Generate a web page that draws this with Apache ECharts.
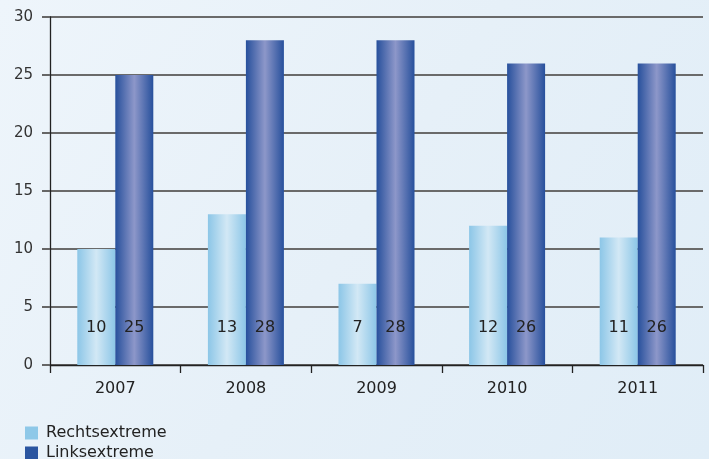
<!DOCTYPE html>
<html><head><meta charset="utf-8">
<script src="https://cdn.jsdelivr.net/npm/echarts@6/dist/echarts.min.js"></script>
<style>html,body{margin:0;padding:0;background:#e7f1f9;}#c{width:709px;height:459px;}</style>
</head><body><div id="c"></div>
<script>
var categories = ['2007','2008','2009','2010','2011'];
var rechts = [10, 13, 7, 12, 11];
var links = [25, 28, 28, 26, 26];
var seriesNames = ['Rechtsextreme','Linksextreme'];

var font = '"DejaVu Sans", "Liberation Sans", Arial, sans-serif';
function grad(edge, mid){
  return new echarts.graphic.LinearGradient(0,0,1,0,[
    {offset:0,color:edge},{offset:0.5,color:mid},{offset:1,color:edge}]);
}
function legendFor(name, color, top){
  return {
    left:25, top:top, padding:0, itemWidth:13, itemHeight:13, icon:'rect',
    textStyle:{fontSize:16,color:'#222',fontFamily:font,padding:[0,0,0,3]},
    data:[{name:name,itemStyle:{color:color}}]
  };
}
var chart = echarts.init(document.getElementById('c'));
chart.setOption({
  backgroundColor: new echarts.graphic.LinearGradient(0,0,1,1,[
    {offset:0,color:'#eef5fb'},{offset:0.5,color:'#e6f0f8'},{offset:1,color:'#e0edf7'}]),
  animation:false,
  textStyle:{fontFamily:font},
  grid:{left:50,right:6,top:17,bottom:94,containLabel:false},
  legend:[legendFor(seriesNames[0],'#8ec8e8',425), legendFor(seriesNames[1],'#2a55a0',445)],
  xAxis:{
    type:'category', data:categories,
    axisLine:{lineStyle:{color:'#222',width:1.3}},
    axisTick:{show:true,length:8,lineStyle:{color:'#222',width:1.3}},
    axisLabel:{fontSize:16,color:'#222',margin:16,fontFamily:font}
  },
  yAxis:{
    type:'value', min:0, max:30, interval:5,
    axisLine:{show:true,lineStyle:{color:'#222',width:1.3}},
    axisTick:{show:true,length:8,lineStyle:{color:'#666',width:2}},
    axisLabel:{fontSize:15,color:'#333',margin:17,fontFamily:font},
    splitLine:{lineStyle:{color:'#6a6a6a',width:2}}
  },
  series:[
    {name:seriesNames[0],type:'bar',data:rechts,barWidth:38,barGap:'0%',
     itemStyle:{color:grad('#8cc6e7','#d2e8f5')},
     label:{show:true,position:'insideBottom',distance:29,fontSize:16,color:'#222',fontFamily:font}},
    {name:seriesNames[1],type:'bar',data:links,barWidth:38,barGap:'0%',
     itemStyle:{color:grad('#27509c','#8d97c9')},
     label:{show:true,position:'insideBottom',distance:29,fontSize:16,color:'#222',fontFamily:font}}
  ]
});
</script></body></html>
